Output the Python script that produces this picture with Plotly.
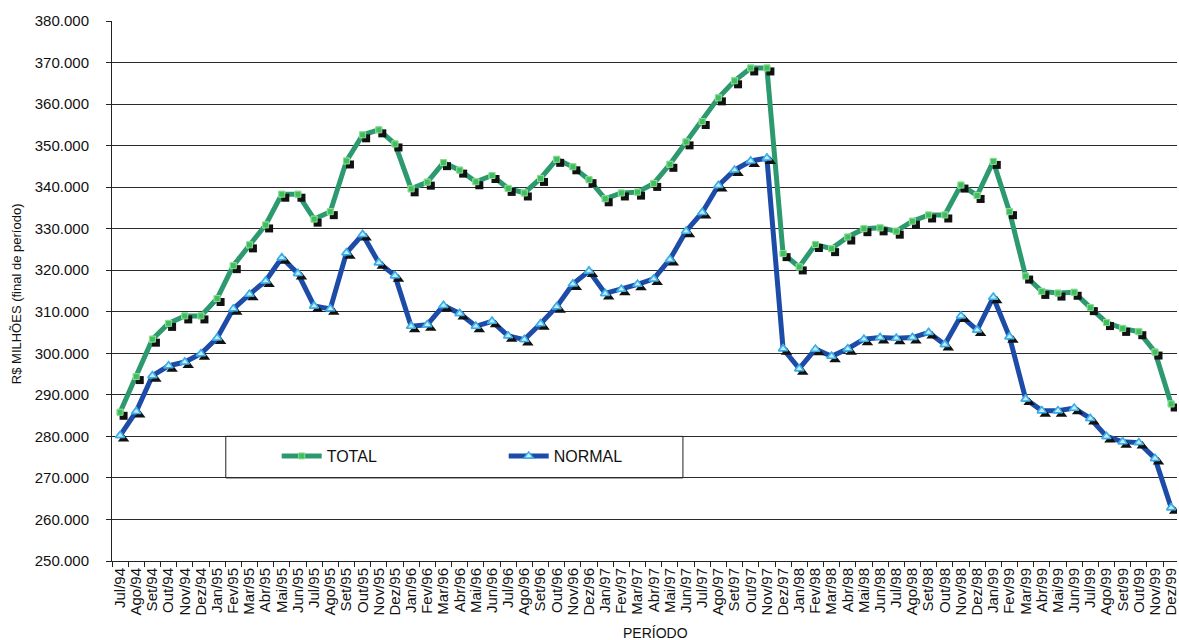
import plotly.graph_objects as go

# Month labels, Jul/94 .. Dez/99
months = ["Jan", "Fev", "Mar", "Abr", "Mai", "Jun",
          "Jul", "Ago", "Set", "Out", "Nov", "Dez"]
years = ["94", "95", "96", "97", "98", "99"]
periodo = [f"{m}/{y}" for y in years for m in months][6:]

# R$ milhões, end of period
total = [285800, 294400, 303400, 307200, 309000, 309000,
         313200, 321100, 326100, 330900, 338300, 338300, 332300, 334100, 346300, 352600, 353800, 350400,
         339600, 341200, 345900, 344100, 341300, 342800, 339700, 338600, 342100, 346700, 344900, 341800,
         337200, 338600, 338800, 340900, 345500, 350900, 355800, 361500, 365600, 368700, 368700, 324000,
         320800, 326200, 325200, 328000, 330000, 330200, 329400, 331800, 333300, 333300, 340500, 338000,
         346200, 334100, 318600, 314900, 314500, 314700, 311000, 307400, 306000, 305200, 300300, 287800]

normal = [280200, 286000, 294600, 297000, 297900, 299900,
          303700, 310700, 314200, 317400, 323000, 319200, 311400, 310700, 324200, 328600, 321800, 318700,
          306500, 306900, 311500, 309600, 306500, 307700, 304200, 303300, 307100, 311200, 316700, 319800,
          314400, 315400, 316600, 317900, 322600, 329400, 333900, 340400, 344100, 346300, 347000, 301100,
          296300, 301000, 299300, 301100, 303400, 303800, 303600, 303800, 305000, 302100, 309000, 305600,
          313500, 304000, 289000, 286200, 286200, 286800, 284300, 280000, 278700, 278500, 274700, 262800]

y_range = [250000, 380000]
y_ticks = list(range(250000, 380001, 10000))

FONT = "Liberation Sans, Arial, sans-serif"
GREEN = "#2c9a6e"
BLUE = "#1d4ca8"

W, H = 1179, 640
M_L, M_R, M_T, M_B = 112, 0, 21, 79
plot_w = W - M_L - M_R
plot_h = H - M_T - M_B
x_range = [-0.5, 65.36]
px_per_cat = plot_w / (x_range[1] - x_range[0])
px_per_unit = plot_h / (y_range[1] - y_range[0])

# drop-shadow offset for markers (pixels right / down)
SH = 3.5
dx = SH / px_per_cat
dy = SH / px_per_unit

sq_marker = dict(symbol="square", size=6, color="#3fbf5c", line=dict(color="#8fdc9a", width=1))
tri_marker = dict(symbol="triangle-up", size=8, color="#c4ebfc", line=dict(color="#3aaee6", width=1.5))

fig = go.Figure()

# series lines (with legend entries)
fig.add_trace(go.Scatter(x=periodo, y=total, name="TOTAL", mode="lines+markers",
                         line=dict(color=GREEN, width=5), marker=sq_marker))
fig.add_trace(go.Scatter(x=periodo, y=normal, name="NORMAL", mode="lines+markers",
                         line=dict(color=BLUE, width=5), marker=tri_marker))

# black marker shadows, on an offset overlay axis pair
fig.add_trace(go.Scatter(x=periodo, y=total, mode="markers", showlegend=False,
                         marker=dict(symbol="square", size=8, color="#111"),
                         xaxis="x2", yaxis="y2", hoverinfo="skip"))
fig.add_trace(go.Scatter(x=periodo, y=normal, mode="markers", showlegend=False,
                         marker=dict(symbol="triangle-up", size=10, color="#111"),
                         xaxis="x2", yaxis="y2", hoverinfo="skip"))

# coloured markers on top of their shadows
fig.add_trace(go.Scatter(x=periodo, y=total, mode="markers", showlegend=False,
                         marker=sq_marker, xaxis="x3", yaxis="y3"))
fig.add_trace(go.Scatter(x=periodo, y=normal, mode="markers", showlegend=False,
                         marker=tri_marker, xaxis="x3", yaxis="y3"))

hidden = dict(visible=False, showgrid=False, zeroline=False)

fig.update_layout(
    width=W, height=H,
    margin=dict(l=M_L, r=M_R, t=M_T, b=M_B),
    paper_bgcolor="white", plot_bgcolor="white",
    separators=",.",
    font=dict(family=FONT, color="#111", size=15),
    xaxis=dict(
        type="category", range=x_range, dtick=1, tickangle=-90,
        tickson="boundaries", ticks="outside", ticklen=5, tickcolor="#222",
        showline=True, linecolor="#222", linewidth=1, showgrid=False,
        tickfont=dict(size=15, family=FONT, color="#111"),
    ),
    yaxis=dict(
        range=y_range, tickvals=y_ticks, tickformat=",d",
        ticks="outside", ticklen=5, tickcolor="#222", ticklabelstandoff=14,
        showline=True, linecolor="#222", linewidth=1,
        showgrid=True, gridcolor="#2a2a2a", gridwidth=1, zeroline=False,
        tickfont=dict(size=15, family=FONT, color="#111"),
    ),
    xaxis2=dict(type="category", overlaying="x", range=[x_range[0] - dx, x_range[1] - dx], **hidden),
    yaxis2=dict(overlaying="y", range=[y_range[0] + dy, y_range[1] + dy], **hidden),
    xaxis3=dict(type="category", overlaying="x", range=x_range, **hidden),
    yaxis3=dict(overlaying="y", range=y_range, **hidden),
    showlegend=True,
    legend=dict(
        orientation="h", x=(277 - M_L) / plot_w, xanchor="left",
        y=(H - M_B - 456) / plot_h, yanchor="middle",
        bgcolor="rgba(0,0,0,0)", borderwidth=0,
        font=dict(size=16, family=FONT, color="#111"),
        entrywidth=172, entrywidthmode="pixels", itemwidth=40,
    ),
    shapes=[dict(type="rect", xref="paper", yref="y",
                 x0=(226 - M_L) / plot_w, x1=(684 - M_L) / plot_w,
                 y0=270000, y1=280000,
                 line=dict(color="#222", width=1), fillcolor="white", layer="below")],
    annotations=[
        dict(text="R$ MILHÕES (final de período)", textangle=-90, showarrow=False,
             xref="paper", yref="paper", x=(16 - M_L) / plot_w, y=(H - M_B - 294) / plot_h,
             xanchor="center", yanchor="middle", font=dict(size=13, family=FONT, color="#111")),
        dict(text="PERÍODO", showarrow=False,
             xref="paper", yref="paper", x=(657 - M_L) / plot_w, y=(H - M_B - 633) / plot_h,
             xanchor="center", yanchor="middle", font=dict(size=14, family=FONT, color="#111")),
    ],
)

fig.write_html("out.html")
